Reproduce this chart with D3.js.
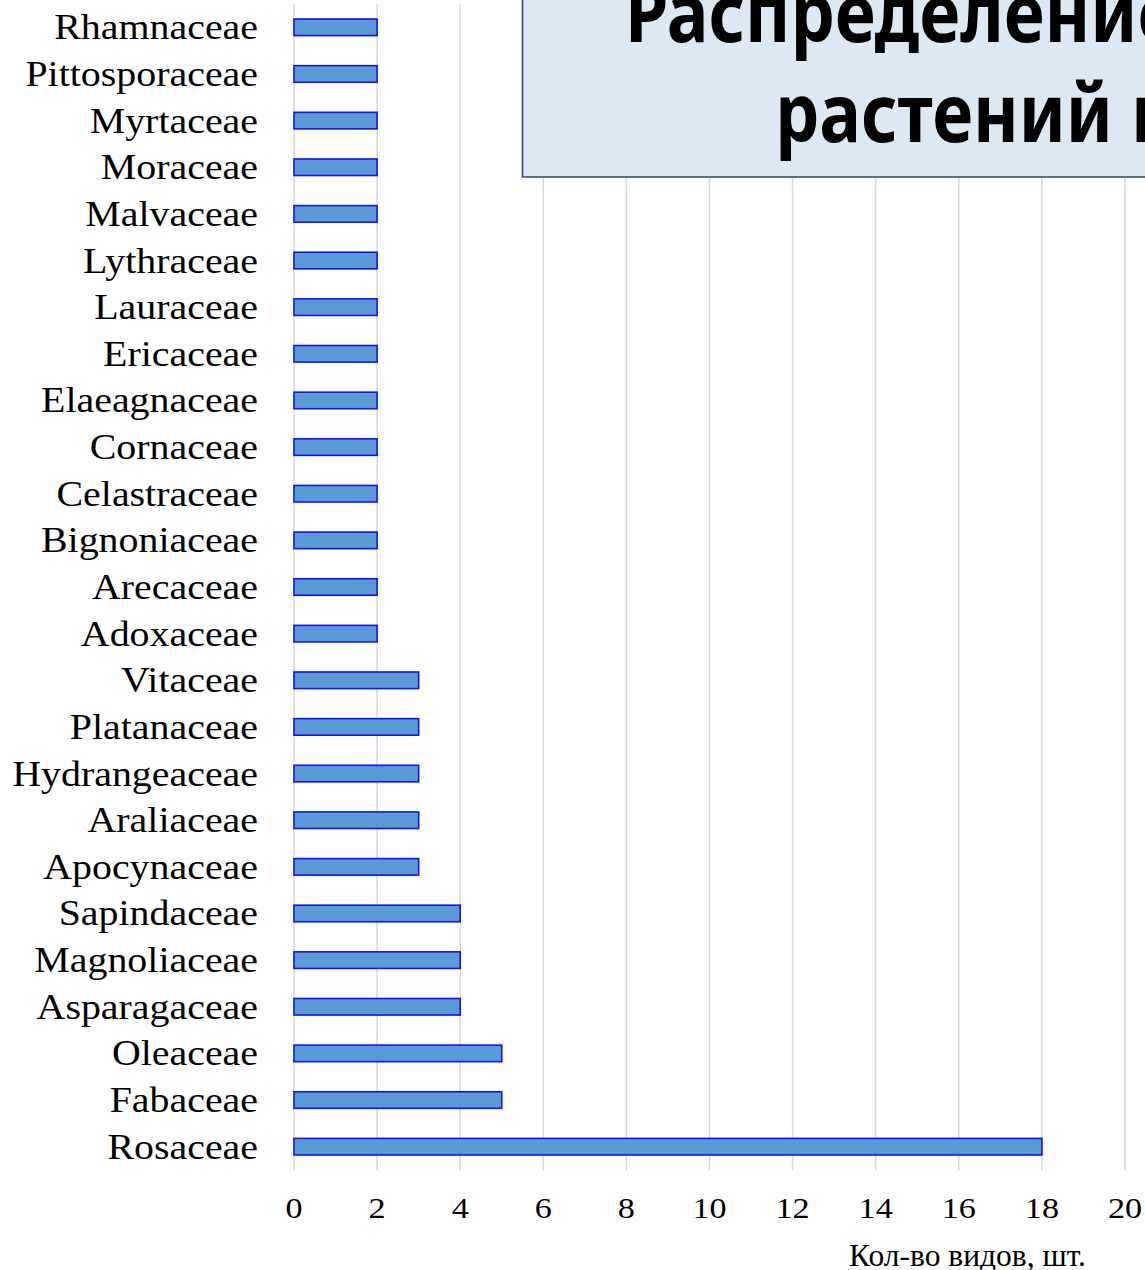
<!DOCTYPE html>
<html>
<head>
<meta charset="utf-8">
<script src="https://cdn.jsdelivr.net/npm/d3@7"></script>
<style>
html,body{margin:0;padding:0;background:#fff;overflow:hidden;}
svg{display:block;}
</style>
</head>
<body>
<svg id="chart" width="1145" height="1270"></svg>
<script>
// ---- data (top to bottom as displayed) ----
const families = ["Rhamnaceae","Pittosporaceae","Myrtaceae","Moraceae","Malvaceae","Lythraceae","Lauraceae","Ericaceae","Elaeagnaceae","Cornaceae","Celastraceae","Bignoniaceae","Arecaceae","Adoxaceae","Vitaceae","Platanaceae","Hydrangeaceae","Araliaceae","Apocynaceae","Sapindaceae","Magnoliaceae","Asparagaceae","Oleaceae","Fabaceae","Rosaceae"];
const speciesCount = [2,2,2,2,2,2,2,2,2,2,2,2,2,2,3,3,3,3,3,4,4,4,5,5,18];
const xTicks = [0,2,4,6,8,10,12,14,16,18,20];
const axisTitle = "Кол-во видов, шт.";
const titleLines = ["Распределение видов","растений по семействам"];

const svg = d3.select("#chart");
const plotTop = 4, plotBottom = 1170, plotLeft = 294, plotRight = 1125;
const sx = 1.14; // horizontal stretch of text in the reference

const x = d3.scaleLinear().domain([0,20]).range([plotLeft, plotRight]);
const y = d3.scaleBand().domain(families).range([plotTop, plotBottom])
  .paddingInner(0.645).paddingOuter(0.3225);

// gridlines
svg.append("g").selectAll("line").data(xTicks).join("line")
  .attr("x1", d => x(d)).attr("x2", d => x(d))
  .attr("y1", plotTop).attr("y2", plotBottom)
  .attr("stroke", "#d9d9d9").attr("stroke-width", 1.5);

// bars
svg.append("g").selectAll("rect").data(families).join("rect")
  .attr("x", x(0))
  .attr("y", d => y(d))
  .attr("width", (d,i) => x(speciesCount[i]) - x(0))
  .attr("height", y.bandwidth())
  .attr("fill", "#5b9bd5")
  .attr("stroke", "#1010ff")
  .attr("stroke-width", 1.6);

// category labels
svg.append("g").selectAll("text").data(families).join("text")
  .attr("transform", d => `translate(258,${y(d) + y.bandwidth()/2 + 12}) scale(${sx},1)`)
  .attr("text-anchor", "end")
  .attr("font-family", "'Liberation Serif','Times New Roman',serif")
  .attr("font-size", 35)
  .attr("fill", "#000")
  .text(d => d);

// x tick labels
svg.append("g").selectAll("text").data(xTicks).join("text")
  .attr("transform", d => `translate(${x(d)},1218) scale(${sx},1)`)
  .attr("text-anchor", "middle")
  .attr("font-family", "'Liberation Serif','Times New Roman',serif")
  .attr("font-size", 30)
  .attr("fill", "#000")
  .text(d => d);

// axis title
const at = svg.append("text")
  .attr("font-family", "'Liberation Serif','Times New Roman',serif")
  .attr("font-size", 32)
  .attr("fill", "#000")
  .text(axisTitle);
const atLen = at.node().getComputedTextLength();
at.attr("transform", `translate(849,1266) scale(${237/atLen},1)`);

// title box
svg.append("rect")
  .attr("x", 522.5).attr("y", -10)
  .attr("width", 700).attr("height", 187)
  .attr("fill", "#dde8f5")
  .attr("stroke", "#3b4a72").attr("stroke-width", 1.6);

// title text
const probe = svg.append("text")
  .attr("font-family", "'Noto Sans','Open Sans',sans-serif")
  .attr("font-weight", "bold").attr("font-size", 80)
  .text("растений");
const tsx = 338 / probe.node().getComputedTextLength();
probe.remove();
const titleX = [625, 775], titleY = [42, 142];
svg.append("g").selectAll("text").data(titleLines).join("text")
  .attr("transform", (d,i) => `translate(${titleX[i]},${titleY[i]}) scale(${tsx},1)`)
  .attr("font-family", "'Noto Sans','Open Sans',sans-serif")
  .attr("font-weight", "bold")
  .attr("font-size", 80)
  .attr("fill", "#000")
  .text(d => d);
</script>
</body>
</html>
